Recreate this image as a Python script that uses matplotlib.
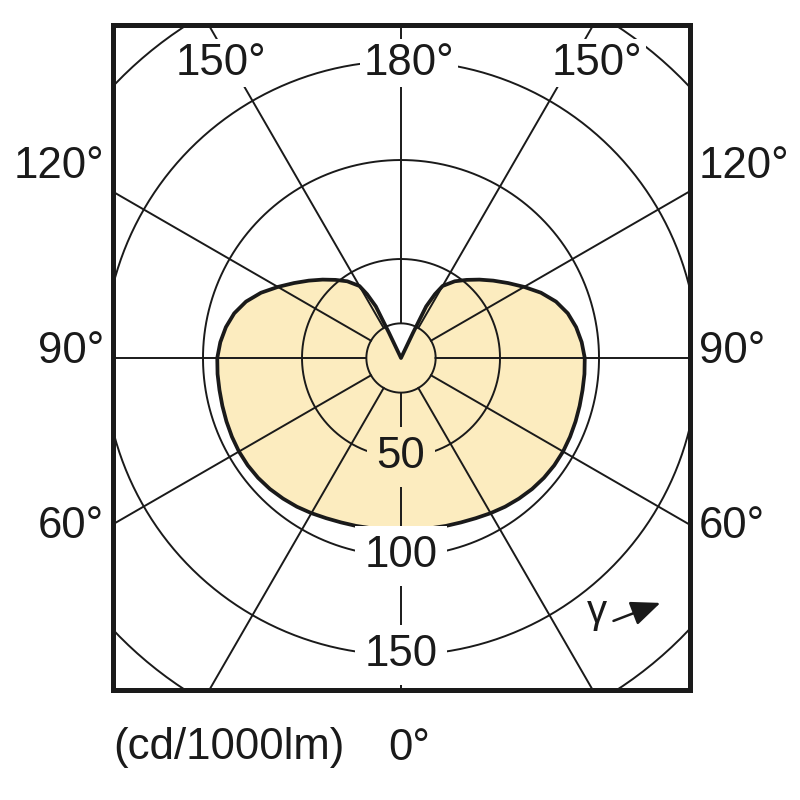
import numpy as np
import matplotlib.pyplot as plt

plt.rcParams['font.family'] = ['Liberation Sans', 'DejaVu Sans']

# luminous intensity (cd/1000lm) against gamma, one half of the symmetric curve
gamma = [0, 5, 10, 15, 20, 25, 30, 35, 40, 45, 50, 55, 60, 65, 70, 75, 80, 85, 90,
         95, 100, 105, 110, 115, 120, 125, 130, 135, 140, 145, 150, 152, 154,
         154.5, 155, 180]
intensity = [87, 87.1, 87.3, 87.8, 88.4, 89.3, 90.5, 91.7, 92.7, 93.6, 94.2, 94.5,
             94.5, 94.2, 93.8, 93.4, 93.1, 93, 92.8, 91.6, 89.8, 87.2, 83.3, 78,
             71.8, 66, 60.8, 56, 51.5, 47.3, 42, 36.5, 29, 14, 0, 0]

rings = [50, 100, 150, 200]
ring_labels = ['50', '100', '150']
hub = 17.5
spokes = np.arange(0, 360, 30)
side_angles = ['120°', '90°', '60°']
top_angles = ['150°', '180°', '150°']

fill_col = '#FCECBF'
ink = '#1a1a1a'
fs = 31.5

fig = plt.figure(figsize=(8, 8), dpi=100)
ax = fig.add_axes([113 / 800, 110 / 800, 577 / 800, 665 / 800])
ax.set_xlim(-145.45, 145.95)
ax.set_ylim(-167.7, 168.2)
ax.set_xticks([])
ax.set_yticks([])
for s in ax.spines.values():
    s.set_linewidth(3.6)
    s.set_color(ink)
    s.set_zorder(10)

# full curve: right half then mirrored left half
g = np.radians(np.array(gamma, dtype=float))
I = np.array(intensity, dtype=float)
x_r = I * np.sin(g)
y_r = -I * np.cos(g)
xs = np.concatenate([x_r, -x_r[::-1]])
ys = np.concatenate([y_r, y_r[::-1]])
ax.fill(xs, ys, color=fill_col, lw=0, zorder=1)
ax.plot(xs, ys, color=ink, lw=2.7, zorder=4, solid_joinstyle='round')

# grid
t = np.linspace(0, 2 * np.pi, 400)
for r in [hub] + rings:
    ax.plot(r * np.cos(t), r * np.sin(t), color=ink, lw=1.4, zorder=2)
for a in np.radians(spokes):
    rr = np.array([hub, 300])
    ax.plot(rr * np.sin(a), -rr * np.cos(a), color=ink, lw=1.4, zorder=2)

# ring labels
for r, lab in zip(rings, ring_labels):
    fc = fill_col if r < 80 else 'white'
    ax.text(0, -r, lab, ha='center', va='center', fontsize=fs, color=ink, zorder=5,
            bbox=dict(boxstyle='square,pad=0.22', fc=fc, ec='none'))

# angle labels on top, inside the box
for xpos, lab in zip([-91, 4, 99], top_angles):
    ax.text(xpos, 149, lab, ha='center', va='center', fontsize=fs, color=ink, zorder=5,
            bbox=dict(boxstyle='square,pad=0.08', fc='white', ec='none'))

# angle labels at the sides, outside the box
for ypix, lab in zip([167, 352, 527], side_angles):
    fig.text(104 / 800, 1 - ypix / 800, lab, ha='right', va='center', fontsize=fs, color=ink)
    fig.text(699 / 800, 1 - ypix / 800, lab, ha='left', va='center', fontsize=fs, color=ink)

fig.text(113 / 800, 1 - 748 / 800, '(cd/1000lm)', ha='left', va='center', fontsize=fs, color=ink)
fig.text(388 / 800, 1 - 748 / 800, '0°', ha='left', va='center', fontsize=fs, color=ink)

# gamma direction arrow
ax.text(99, -128.5, 'γ', ha='center', va='center', fontsize=29, color=ink, zorder=5)
ax.annotate('', xy=(132.3, -123.2), xytext=(106, -133.3),
            arrowprops=dict(arrowstyle='-|>,head_length=0.9,head_width=0.38',
                            mutation_scale=20, color=ink, lw=1.8), zorder=5)

fig.savefig('out.png', dpi=100)
